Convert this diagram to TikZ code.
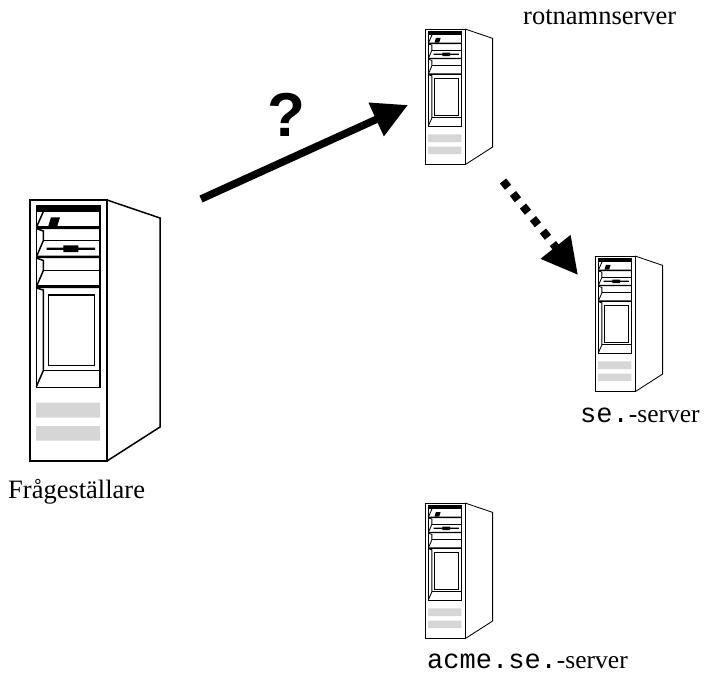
\documentclass[tikz,border=0pt]{standalone}
\usepackage{fontspec}
\setmainfont{Liberation Serif}
\setmonofont[Scale=1.06]{Liberation Mono}
\newfontfamily\questionfont{Liberation Sans}
\usetikzlibrary{arrows.meta}
\definecolor{slotgray}{HTML}{D6D6D6}
\tikzset{
	textlabel/.style={anchor=base west,inner sep=0pt,font=\fontsize{26.5}{32}\selectfont},
	addrlabel/.style={textlabel,font=\fontsize{25.5}{30}\selectfont},
	server/.pic={
		\fill[white] (0,0) rectangle (130,261);
		\draw (0,0) rectangle (77,261);
		\draw (77,0)--(130,18)--(130,227)--(77,261);
		\draw (6.3,5.3) rectangle (70,187.3);
		\fill[slotgray] (6,202.7) rectangle (70,217.7) (6,226) rectangle (70,240.7);
		\fill (6.3,5.3) rectangle (70,11.7);
		\fill (7,26) rectangle (70,29) (7,55.5) rectangle (70,58) (7,85.2) rectangle (70,88);
		\fill (21,17.3)--(30,17.3)--(27.3,26)--(18.3,26)--cycle;
		\draw (6.3,7)--(13.3,11.7)--(7,26);
		\draw (6.3,28.5)--(13.3,31)--(13.3,40.7)--(7,55.5);
		\draw (6.3,58)--(13.3,60.5)--(13.3,70.7)--(7,85.3);
		\draw (6.3,88)--(13.3,90)--(13.3,170.7)--(6.3,186.7);
		\draw (13.3,40.7)--(70,40.7) (13.3,70.7)--(70,70.7) (13.3,170.7)--(70,170.7);
		\fill (16.7,47.5) rectangle (65,49.8) (33.3,45.3) rectangle (48.3,52);
		\draw (18.7,95) rectangle (64.3,165.3);
	}
}
\begin{document}
\begin{tikzpicture}[x=1pt,y=-1pt,line join=miter,line cap=butt]
	\useasboundingbox (0,0) rectangle (704,677);
	\draw (201,199) coordinate (Astart)
	(408,105) coordinate (Aend)
	(503,181) coordinate (Bstart)
	(578,275) coordinate (Bend)
	;
	\pic[line width=1.5pt] (asker) at (30,200) {server};
	\pic[line width=.85pt,scale=.52] (root) at (425,29) {server};
	\pic[line width=.85pt,scale=.52] (se) at (595,256) {server};
	\pic[line width=.85pt,scale=.52] (acme) at (425,503) {server};
	\draw[line width=7.5pt,-{Triangle[length=35pt,width=35pt]}] (Astart)--(Aend);
	\draw[line width=8pt,dash pattern=on 8pt off 8pt,-{Triangle[length=36pt,width=36pt]}] (Bstart)--(Bend);
	\node[inner sep=0pt,font=\questionfont\bfseries\fontsize{62}{70}\selectfont] (question) at (286,114.5) {?};
	\node[textlabel] (rootlabel) at (523,25) {rotnamnserver};
	\node[textlabel] (askerlabel) at (8,498) {Frågeställare};
	\node[addrlabel] (selabel) at (580,422) {\texttt{se.}-server};
	\node[addrlabel] (acmelabel) at (427,668) {\texttt{acme.se.}-server};
\end{tikzpicture}
\end{document}
